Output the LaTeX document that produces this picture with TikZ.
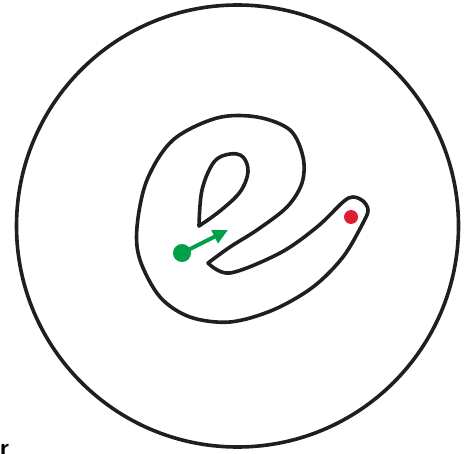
\documentclass[tikz,border=0pt]{standalone}
\usetikzlibrary{arrows.meta}
\begin{document}
\begin{tikzpicture}[x=1pt,y=-1pt,
  outline/.style={draw=black!88,line width=3.6pt,line join=round},
  gdot/.style={circle,inner sep=0pt,minimum size=18pt},
  rdot/.style={circle,inner sep=0pt,minimum size=14pt}]
\useasboundingbox (0,0) rectangle (473,454);
\definecolor{ggreen}{RGB}{0,160,75}
\definecolor{rred}{RGB}{220,30,55}
% big circle
\draw[outline] (237.5,226) circle (221);
% e outline
\draw[outline] plot[smooth,tension=0.55] coordinates {
 (208,263) (230,273) (280,253) (317,227) (343,202) (353,197) (363,201) (368,210)
 (363,223) (343,257) (313,287) (273,310) (230,322) (190,317) (160,297) (140,260)
 (137,227) (147,180) (173,140) (217,118) (257,117) (290,130) (303,157) (302,183)
 (287,207) (257,230) (230,247) (208,263)} -- cycle;
% teardrop
\draw[outline] plot[smooth,tension=0.6] coordinates {
 (199,226) (202,190) (214,162) (230,154) (243,157) (248,172) (240,192) (220,211) (199,226)} -- cycle;
% dots and arrow
\node[gdot,fill=ggreen] (g) at (182,253) {};
\coordinate (gt) at (228,230);
\draw[ggreen,line width=4pt,-{Triangle[length=15pt,width=14pt]}] (g.center) -- (gt);
\node[rdot,fill=rred] (r) at (351,217) {};
% cut-off label
\node[anchor=north west,inner sep=0pt,font=\sffamily\bfseries\fontsize{24}{24}\selectfont] (lbl) at (0,444) {r};
\end{tikzpicture}
\end{document}
